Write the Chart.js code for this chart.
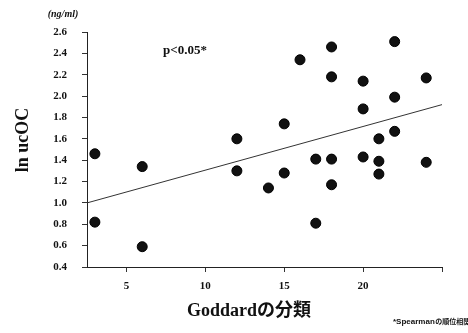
<!DOCTYPE html>
<html>
<head>
<meta charset="utf-8">
<title>ln ucOC vs Goddard</title>
<script src="https://cdn.jsdelivr.net/npm/chart.js@4/dist/chart.umd.min.js"></script>
<style>
    html, body { margin: 0; padding: 0; background: #fff; }
    #wrap { width: 468px; height: 333px; }
</style>
</head>
<body>
<div id="wrap"><canvas id="scatterChart" width="468" height="333"></canvas></div>
<script>
// ===== DATA =====
// Goddard classification (x) and ln ucOC (y), one entry per patient
const goddardScores = [3, 3, 6, 6, 12, 12, 14, 15, 15, 16, 17, 17, 18, 18, 18, 18, 20, 20, 20, 21, 21, 21, 22, 22, 22, 24, 24];
const ucocValues = [1.46, 0.82, 1.34, 0.59, 1.60, 1.30, 1.14, 1.28, 1.74, 2.34, 1.41, 0.81, 2.46, 2.18, 1.41, 1.17, 2.14, 1.88, 1.43, 1.60, 1.39, 1.27, 2.51, 1.99, 1.67, 2.17, 1.38];

// regression line end points
const trendX = [2.5, 25];
const trendY = [1.0, 1.92];

// axis ticks
const xTickValues = [5, 10, 15, 20, 25];
const xTickLabels = ['5', '10', '15', '20', ''];
const yTickValues = [0.4, 0.6, 0.8, 1.0, 1.2, 1.4, 1.6, 1.8, 2.0, 2.2, 2.4, 2.6];
const yTickLabels = ['0.4', '0.6', '0.8', '1.0', '1.2', '1.4', '1.6', '1.8', '2.0', '2.2', '2.4', '2.6'];

const SERIF = '"Liberation Serif", "Times New Roman", "Noto Sans CJK JP", serif';
const SANS = '"Liberation Sans", Arial, "Noto Sans CJK JP", sans-serif';

// ===== EXTRA TEXT (unit, p-value, axis titles, footnote) =====
const textPlugin = {
    id: 'extraText',
    afterDraw(chart) {
        const ctx = chart.ctx;
        ctx.save();
        ctx.fillStyle = '#111';
        ctx.textAlign = 'center';
        ctx.textBaseline = 'middle';

        ctx.font = 'italic bold 10px ' + SERIF;
        ctx.fillText('(ng/ml)', 63, 14);

        ctx.font = 'bold 13px ' + SERIF;
        ctx.fillText('p<0.05*', 185, 51);

        ctx.font = 'bold 18px ' + SERIF;
        ctx.fillText('Goddardの分類', 249, 311);

        ctx.save();
        ctx.translate(23, 140);
        ctx.rotate(-Math.PI / 2);
        ctx.fillText('ln ucOC', 0, 0);
        ctx.restore();

        // footnote: latin part slightly larger than the kanji part
        ctx.textAlign = 'left';
        ctx.font = 'bold 8px ' + SANS;
        const latin = '*Spearman';
        ctx.fillText(latin, 393, 322);
        const w = ctx.measureText(latin).width;
        ctx.font = 'bold 7px ' + SANS;
        ctx.fillText('の順位相関', 393 + w + 0.5, 322);
        ctx.restore();
    }
};

// ===== CHART =====
function renderScatterChart() {
    const ctx = document.getElementById('scatterChart');

    new Chart(ctx.getContext('2d'), {
        type: 'scatter',
        data: {
            datasets: [
                {
                    label: 'patients',
                    data: goddardScores.map((x, i) => ({ x: x, y: ucocValues[i] })),
                    backgroundColor: '#111',
                    borderColor: '#000',
                    borderWidth: 1,
                    pointRadius: 5
                },
                {
                    label: 'trend',
                    data: trendX.map((x, i) => ({ x: x, y: trendY[i] })),
                    showLine: true,
                    borderColor: '#333',
                    borderWidth: 1,
                    pointRadius: 0
                }
            ]
        },
        options: {
            responsive: false,
            animation: false,
            layout: { padding: { top: 32, right: 26, left: 0, bottom: 0 } },
            plugins: {
                legend: { display: false },
                tooltip: { enabled: false }
            },
            scales: {
                x: {
                    type: 'linear',
                    min: 2.5,
                    max: 25,
                    afterFit: scale => { scale.height = 66; },
                    afterBuildTicks: scale => { scale.ticks = xTickValues.map(v => ({ value: v })); },
                    grid: { display: true, drawOnChartArea: false, drawTicks: true, tickLength: 5, color: '#333' },
                    border: { color: '#222', width: 1 },
                    ticks: {
                        padding: 8,
                        color: '#111',
                        font: { family: SERIF, size: 11, weight: 'bold' },
                        callback: (v) => xTickLabels[xTickValues.indexOf(v)]
                    }
                },
                y: {
                    min: 0.4,
                    max: 2.6,
                    afterFit: scale => { scale.width = 87; },
                    afterBuildTicks: scale => { scale.ticks = yTickValues.map(v => ({ value: v })); },
                    grid: { display: true, drawOnChartArea: false, drawTicks: true, tickLength: 5, color: '#333' },
                    border: { color: '#222', width: 1 },
                    ticks: {
                        padding: 15,
                        color: '#111',
                        font: { family: SERIF, size: 11, weight: 'bold' },
                        callback: (v) => {
                            const i = yTickValues.findIndex(t => Math.abs(t - v) < 1e-6);
                            return i >= 0 ? yTickLabels[i] : '';
                        }
                    }
                }
            }
        },
        plugins: [textPlugin]
    });
}

// ===== INITIALIZE =====
renderScatterChart();
</script>
</body>
</html>
